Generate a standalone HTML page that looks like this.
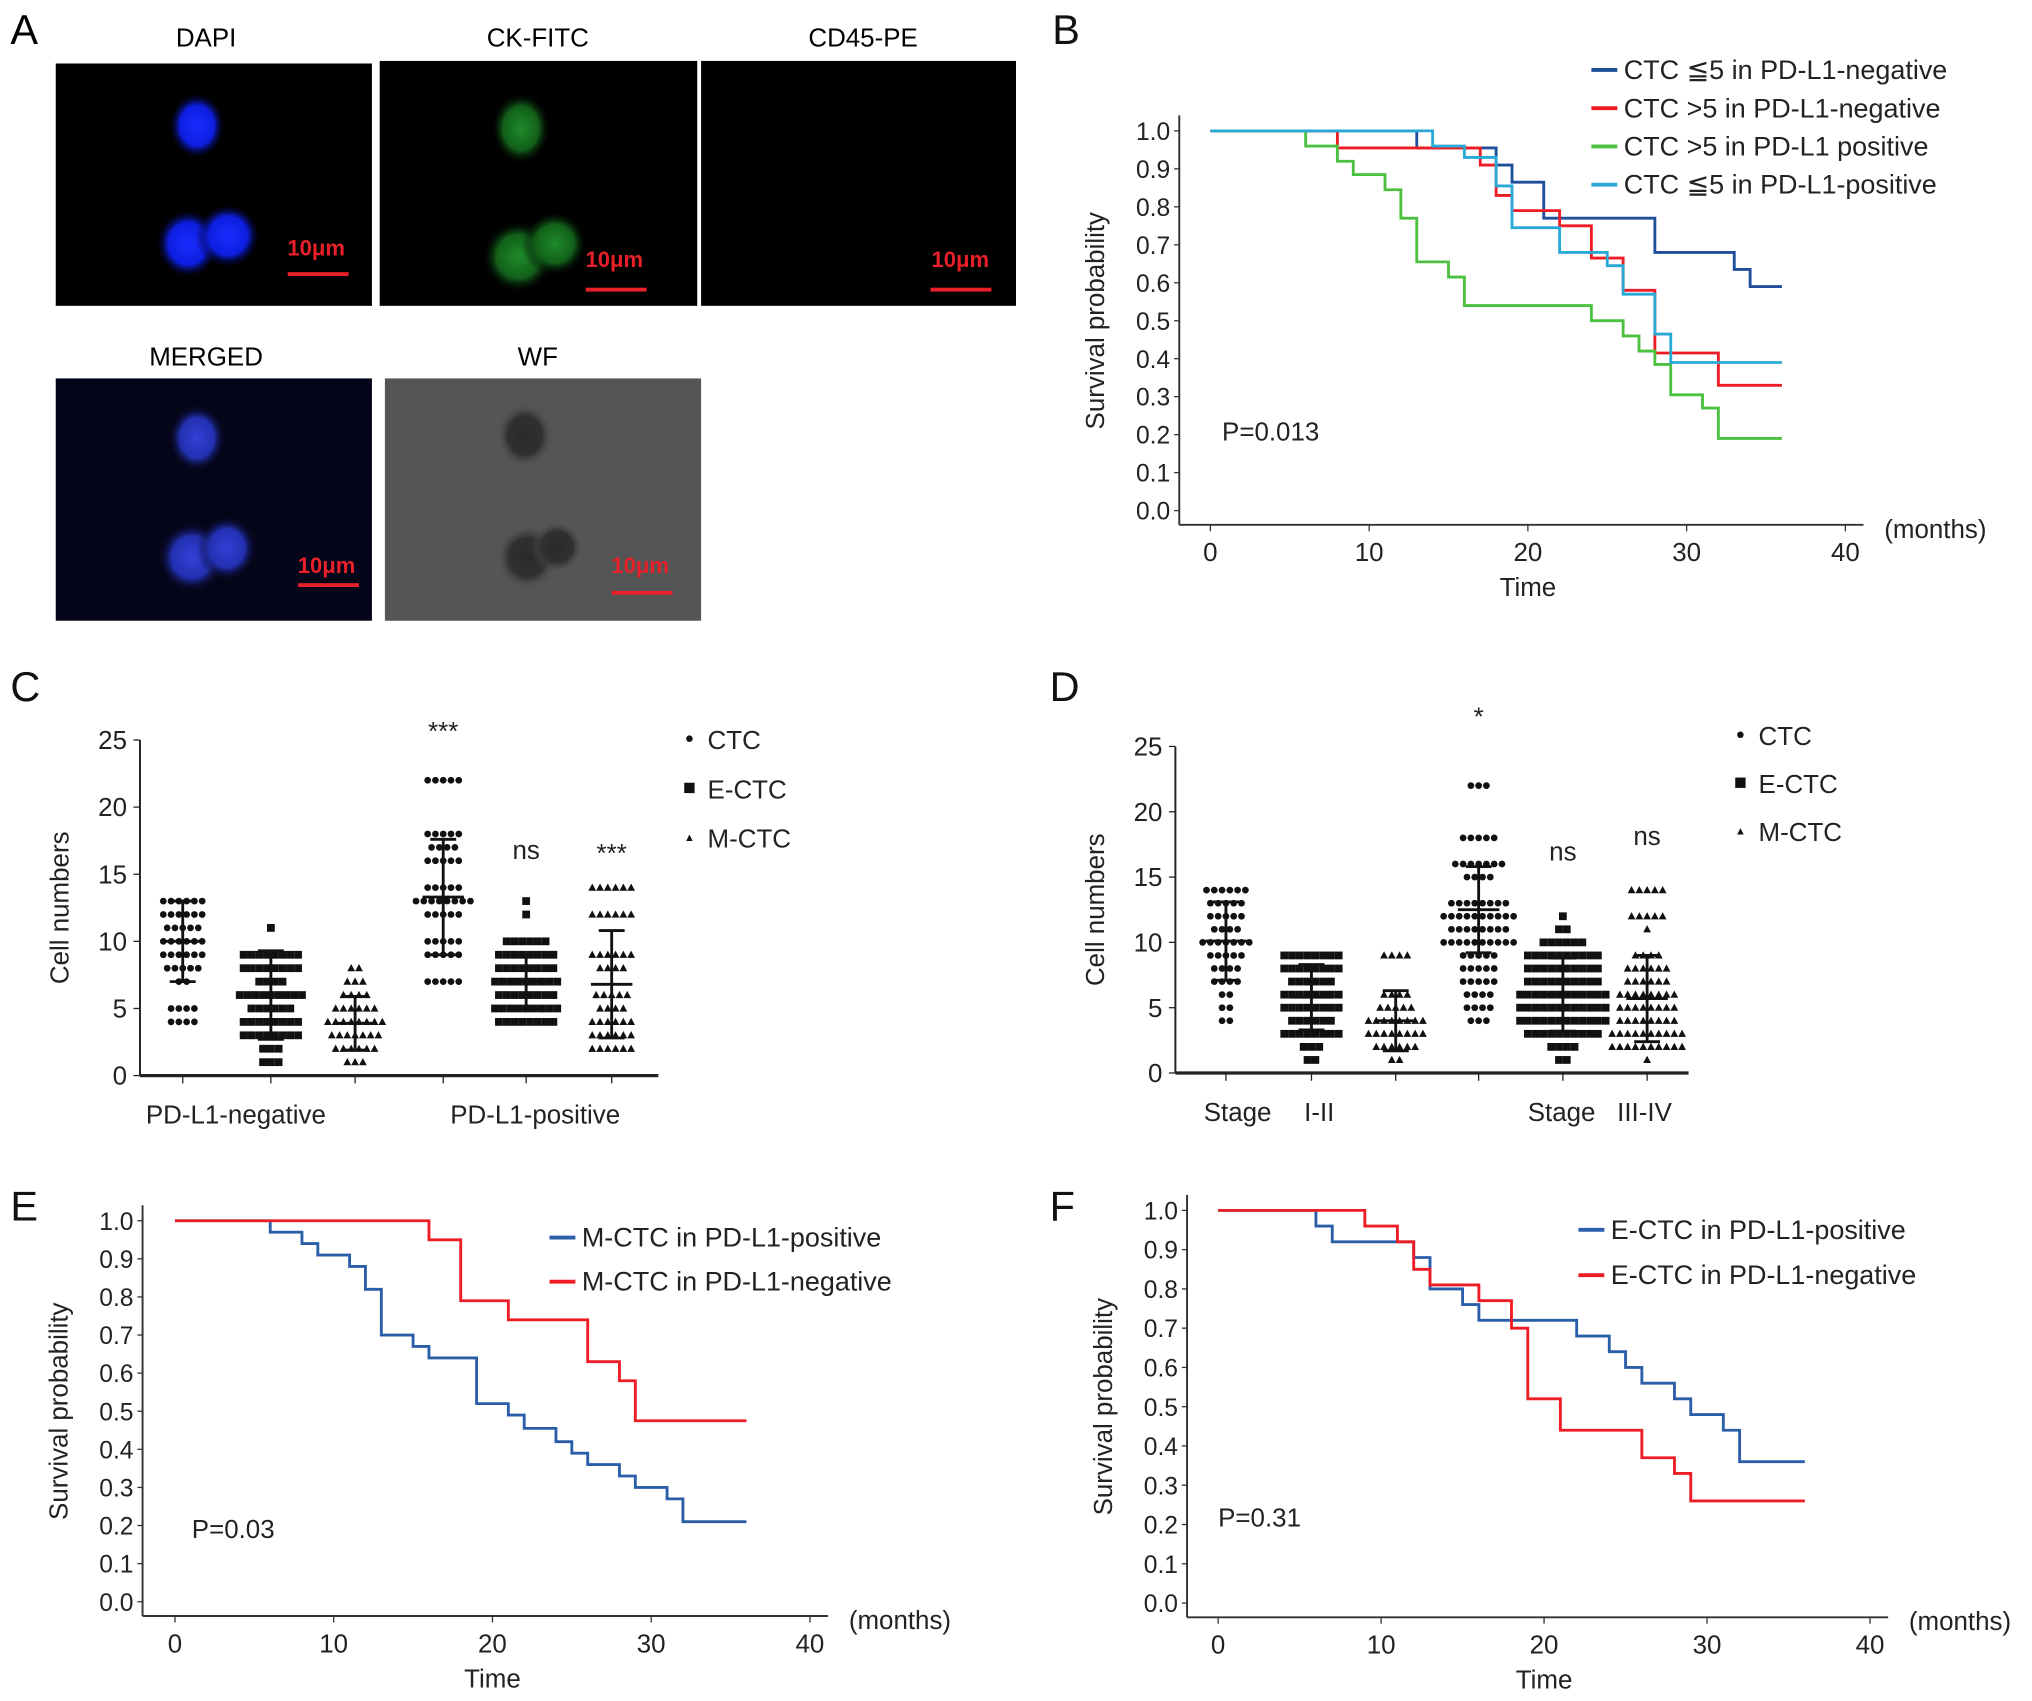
<!DOCTYPE html>
<html><head><meta charset="utf-8">
<style>
html,body{margin:0;padding:0;background:#fff;}
svg{display:block;font-family:"Liberation Sans",sans-serif;}
</style></head>
<body>
<svg id="fig" width="2032" height="1701" viewBox="0 0 1568 1312.6" xmlns="http://www.w3.org/2000/svg">
<defs>
<radialGradient id="gb"><stop offset="0" stop-color="#1a2cff"/><stop offset="0.6" stop-color="#0d1ee0"/><stop offset="1" stop-color="#000" stop-opacity="0"/></radialGradient>
<radialGradient id="gg"><stop offset="0" stop-color="#1f8a2a"/><stop offset="0.6" stop-color="#12601a"/><stop offset="1" stop-color="#000" stop-opacity="0"/></radialGradient>
<radialGradient id="gm"><stop offset="0" stop-color="#3440d8"/><stop offset="0.6" stop-color="#2230b0"/><stop offset="1" stop-color="#05051a" stop-opacity="0"/></radialGradient>
<radialGradient id="gw"><stop offset="0" stop-color="#2a2a2a"/><stop offset="0.6" stop-color="#303030"/><stop offset="1" stop-color="#555" stop-opacity="0"/></radialGradient>
</defs>
<g id="panelA">
<text x="8" y="34" font-size="32">A</text>
<text x="159" y="36" font-size="20" text-anchor="middle">DAPI</text>
<text x="415" y="36" font-size="20" text-anchor="middle">CK-FITC</text>
<text x="666" y="36" font-size="20" text-anchor="middle">CD45-PE</text>
<text x="159" y="282" font-size="20" text-anchor="middle">MERGED</text>
<text x="415" y="282" font-size="20" text-anchor="middle">WF</text>
<g><rect x="43" y="49" width="244" height="187" fill="#000"/>
<ellipse cx="152" cy="97" rx="22" ry="26" fill="url(#gb)"/><ellipse cx="145" cy="188" rx="25" ry="27" fill="url(#gb)"/><ellipse cx="176" cy="182" rx="25" ry="25" fill="url(#gb)"/>
<text x="244" y="197" font-size="17" font-weight="bold" fill="#e8202a" text-anchor="middle">10μm</text><rect x="222" y="210" width="47" height="3" fill="#e8202a"/></g>
<g><rect x="293" y="47" width="245" height="189" fill="#000"/>
<ellipse cx="402" cy="99" rx="23" ry="28" fill="url(#gg)"/><ellipse cx="400" cy="198" rx="28" ry="28" fill="url(#gg)"/><ellipse cx="428" cy="188" rx="25" ry="25" fill="url(#gg)"/>
<text x="474" y="206" font-size="17" font-weight="bold" fill="#e8202a" text-anchor="middle">10μm</text><rect x="452" y="222" width="47" height="3" fill="#e8202a"/></g>
<g><rect x="541" y="47" width="243" height="189" fill="#000"/>
<text x="741" y="206" font-size="17" font-weight="bold" fill="#e8202a" text-anchor="middle">10μm</text><rect x="718" y="222" width="47" height="3" fill="#e8202a"/></g>
<g><rect x="43" y="292" width="244" height="187" fill="#05051a"/>
<ellipse cx="152" cy="338" rx="22" ry="26" fill="url(#gm)"/><ellipse cx="148" cy="430" rx="26" ry="27" fill="url(#gm)"/><ellipse cx="175" cy="423" rx="23" ry="25" fill="url(#gm)"/>
<text x="252" y="442" font-size="17" font-weight="bold" fill="#e8202a" text-anchor="middle">10μm</text><rect x="230" y="450" width="47" height="3" fill="#e8202a"/></g>
<g><rect x="297" y="292" width="244" height="187" fill="#555"/>
<ellipse cx="405" cy="336" rx="22" ry="25" fill="url(#gw)"/><ellipse cx="407" cy="430" rx="24" ry="25" fill="url(#gw)"/><ellipse cx="430" cy="422" rx="20" ry="20" fill="url(#gw)"/>
<text x="494" y="442" font-size="17" font-weight="bold" fill="#e8202a" text-anchor="middle">10μm</text><rect x="472" y="456" width="47" height="3" fill="#e8202a"/></g>
</g>
<g id="gB"></g><g id="gC"></g><g id="gD"></g><g id="gE"></g><g id="gF"></g>
</svg>
<script>
// ---------- Panel B data ----------
const bNames = ["CTC ≦5 in PD-L1-negative","CTC >5 in PD-L1-negative","CTC >5 in PD-L1 positive","CTC ≦5 in PD-L1-positive"];
const bColors = ["#1f4e9a","#ee1c25","#4cc140","#29a9d6"];
const bT0 = [13,18,19,21,28,33,34];
const bS0 = [0.955,0.91,0.865,0.77,0.68,0.635,0.59];
const bT1 = [8,17,18,19,22,24,26,28,32];
const bS1 = [0.955,0.91,0.83,0.79,0.75,0.665,0.58,0.415,0.33];
const bT2 = [6,8,9,11,12,13,15,16,24,26,27,28,29,31,32];
const bS2 = [0.96,0.92,0.885,0.845,0.77,0.655,0.615,0.54,0.5,0.46,0.42,0.385,0.305,0.27,0.19];
const bT3 = [14,16,18,19,22,25,26,28,29];
const bS3 = [0.96,0.93,0.855,0.745,0.68,0.645,0.57,0.465,0.39];
// ---------- Panel E data ----------
const eNames = ["M-CTC in PD-L1-positive","M-CTC in PD-L1-negative"];
const eColors = ["#2a5ea8","#ee1c25"];
const eT0 = [6,8,9,11,12,13,15,16,19,21,22,24,25,26,28,29,31,32];
const eS0 = [0.97,0.94,0.91,0.88,0.82,0.70,0.67,0.64,0.52,0.49,0.455,0.42,0.39,0.36,0.33,0.30,0.27,0.21];
const eT1 = [16,18,21,26,28,29];
const eS1 = [0.95,0.79,0.74,0.63,0.58,0.475];
// ---------- Panel F data ----------
const fNames = ["E-CTC in PD-L1-positive","E-CTC in PD-L1-negative"];
const fColors = ["#2a5ea8","#ee1c25"];
const fT0 = [6,7,12,13,15,16,22,24,25,26,28,29,31,32];
const fS0 = [0.96,0.92,0.88,0.80,0.76,0.72,0.68,0.64,0.60,0.56,0.52,0.48,0.44,0.36];
const fT1 = [9,11,12,13,16,18,19,21,26,28,29];
const fS1 = [0.96,0.92,0.85,0.81,0.77,0.70,0.52,0.44,0.37,0.33,0.26];
const kmEnd = 36;
const xTicks = [0,10,20,30,40];
const yTicksKM = [0,0.1,0.2,0.3,0.4,0.5,0.6,0.7,0.8,0.9,1.0];
// ---------- Panel C data ----------
const cVals = [[13,12,11,10,9,8,7,5,4],[11,9,8,7,6,5,4,3,2,1],[8,7,6,5,4,3,2,1],[22,18,17,16,14,13,12,10,9,7],[13,12,10,9,8,7,6,5,4],[14,12,9,8,6,5,4,3,2]];
const cCnts = [[6,6,5,6,6,5,2,4,4],[1,8,8,4,9,6,8,8,3,3],[2,3,4,6,8,7,6,3],[5,5,4,5,5,8,5,5,5,5],[1,1,6,8,8,9,8,9,8],[6,6,6,4,5,4,6,6,6]];
const cMean = [10,6,3.9,13.3,7,6.8];
const cSD = [3,3.3,2,4.3,2,4];
const cStars = ["","","","***","ns","***"];
// ---------- Panel D data ----------
const dVals = [[14,13,12,11,10,9,8,7,6,5,4],[9,8,7,6,5,4,3,2,1],[9,6,5,4,3,2,1],[22,18,16,15,13,12,11,10,9,8,7,6,5,4],[12,11,10,9,8,7,6,5,4,3,2,1],[14,12,11,9,8,7,6,5,4,3,2,1]];
const dCnts = [[6,5,5,4,7,5,4,4,2,2,2],[8,8,6,8,8,6,8,3,2],[4,4,5,8,8,6,2],[3,5,7,4,8,10,8,10,5,5,5,4,4,3],[1,2,6,10,10,10,12,12,12,10,4,2],[5,5,1,4,6,6,8,8,8,10,10,1]];
const dMean = [10.1,5.8,4,12.5,6,5.7];
const dSD = [3,2.5,2.3,3.3,2.8,3.3];
const dStars = ["","","","*","ns","ns"];
const yTicksC = [0,5,10,15,20,25];
const shapes = ["circle","square","triangle"];

const NS="http://www.w3.org/2000/svg";
function mk(tag,attrs,parent,text){const e=document.createElementNS(NS,tag);for(const k in attrs)e.setAttribute(k,attrs[k]);if(text!==undefined)e.textContent=text;parent.appendChild(e);return e;}

function km(gid,cfg){
  const g=document.getElementById(gid);
  const X=t=>cfg.x0+(cfg.x40-cfg.x0)*t/40, Y=s=>cfg.y0-(cfg.y0-cfg.y1)*s;
  const ax=mk('g',{},g);
  
  
  mk('line',{x1:cfg.axL,y1:Y(1)-12,x2:cfg.axL,y2:cfg.axB,stroke:'#333','stroke-width':1.5},ax);
  mk('line',{x1:cfg.axL,y1:cfg.axB,x2:X(40)+14,y2:cfg.axB,stroke:'#333','stroke-width':1.5},ax);
  yTicksKM.forEach(v=>{mk('line',{x1:cfg.axL-4,x2:cfg.axL,y1:Y(v),y2:Y(v),stroke:'#333'},ax);
    const t=mk('text',{x:cfg.axL-7,y:Y(v)+7,'font-size':19,'text-anchor':'end',fill:'#222'},ax,v.toFixed(1));
    
    });
  xTicks.forEach(v=>{mk('line',{x1:X(v),x2:X(v),y1:cfg.axB,y2:cfg.axB+5,stroke:'#333'},ax);
    const t=mk('text',{x:X(v),y:cfg.axB+28,'font-size':20,'text-anchor':'middle',fill:'#222'},ax,String(v));
    
    });
  const xt=mk('text',{x:X(20),y:cfg.axB+55,'font-size':20,'text-anchor':'middle',fill:'#222'},ax,'Time');
  
  
  const mo=mk('text',{x:X(40)+30,y:cfg.axB+10,'font-size':20,fill:'#222'},ax,'(months)');
  
  
  const yt=mk('text',{x:0,y:0,'font-size':20,'text-anchor':'middle',fill:'#222',transform:`translate(${cfg.axL-58},${Y(0.5)}) rotate(-90)`},ax,'Survival probability');
  
  
  const p=mk('text',{x:cfg.px,y:cfg.py,'font-size':20,fill:'#222'},ax,cfg.p);
  
  
  cfg.series.forEach((s,i)=>{
    let d=`M${X(0)},${Y(1)}`;
    s.t.forEach((t,j)=>{d+=` H${X(t)} V${Y(s.s[j])}`;});
    d+=` H${X(kmEnd)}`;
    const path=mk('path',{d:d,fill:'none',stroke:s.c,'stroke-width':2.2},g);
    
    
    const lg=mk('g',{},g);
    
    
    mk('line',{x1:cfg.lx,x2:cfg.lx+20,y1:cfg.ly+i*cfg.ld,y2:cfg.ly+i*cfg.ld,stroke:s.c,'stroke-width':3},lg);
    mk('text',{x:cfg.lx+25,y:cfg.ly+i*cfg.ld+7,'font-size':20.8,fill:'#222'},lg,s.n);
  });
}
km('gB',{x0:934,x40:1424,y0:394,y1:101,axL:910,axB:405,px:943,py:340,p:'P=0.013',lx:1228,ly:54,ld:29.5,
  series:[{t:bT0,s:bS0,c:bColors[0],n:bNames[0]},{t:bT1,s:bS1,c:bColors[1],n:bNames[1]},{t:bT2,s:bS2,c:bColors[2],n:bNames[2]},{t:bT3,s:bS3,c:bColors[3],n:bNames[3]}]});
km('gE',{x0:135,x40:625,y0:1236,y1:942,axL:110,axB:1247,px:148,py:1187,p:'P=0.03',lx:424,ly:955,ld:34,
  series:[{t:eT0,s:eS0,c:eColors[0],n:eNames[0]},{t:eT1,s:eS1,c:eColors[1],n:eNames[1]}]});
km('gF',{x0:940,x40:1443,y0:1237,y1:934,axL:916,axB:1248,px:940,py:1178,p:'P=0.31',lx:1218,ly:949,ld:35,
  series:[{t:fT0,s:fS0,c:fColors[0],n:fNames[0]},{t:fT1,s:fS1,c:fColors[1],n:fNames[1]}]});
[['B',812,34],['C',8,541],['D',810,541],['E',8,942],['F',810,942]].forEach(a=>{
  const t=mk('text',{x:a[1],y:a[2],'font-size':32,fill:'#111'},document.getElementById('fig'),a[0]);
  
  
});

function scat(gid,cfg){
  const g=document.getElementById(gid);
  const Y=v=>cfg.y0-(cfg.y0-cfg.y25)*v/25;
  const ax=mk('g',{},g);
  
  
  mk('line',{x1:cfg.axL,y1:Y(25),x2:cfg.axL,y2:cfg.y0,stroke:'#222','stroke-width':1.5},ax);
  mk('line',{x1:cfg.axL,y1:cfg.y0,x2:cfg.axR,y2:cfg.y0,stroke:'#222','stroke-width':2.5},ax);
  yTicksC.forEach(v=>{mk('line',{x1:cfg.axL-5,x2:cfg.axL,y1:Y(v),y2:Y(v),stroke:'#222'},ax);
    const t=mk('text',{x:cfg.axL-10,y:Y(v)+7,'font-size':20,'text-anchor':'end',fill:'#222'},ax,String(v));
    
    });
  const yt=mk('text',{x:0,y:0,'font-size':20,'text-anchor':'middle',fill:'#222',transform:`translate(${cfg.axL-55},${Y(12.5)}) rotate(-90)`},ax,'Cell numbers');
  
  
  cfg.labels.forEach(l=>{const t=mk('text',{x:l[1],y:cfg.y0+37,'font-size':20,'text-anchor':'middle',fill:'#222'},ax,l[0]);
    
    });
  cfg.gx.forEach((x,i)=>{
    mk('line',{x1:x,x2:x,y1:cfg.y0,y2:cfg.y0+6,stroke:'#222'},ax);
    const grp=mk('g',{fill:'#111'},g);
    
    
    const sh=shapes[i%3];
    cfg.vals[i].forEach((v,j)=>{
      const n=cfg.cnts[i][j], sp=6;
      for(let k=0;k<n;k++){
        const px=x+(k-(n-1)/2)*sp, py=Y(v);
        if(sh==='circle') mk('circle',{cx:px,cy:py,r:2.6},grp);
        else if(sh==='square') mk('rect',{x:px-3,y:py-3,width:6,height:6},grp);
        else mk('path',{d:`M${px},${py-3.2} L${px+3},${py+2.4} L${px-3},${py+2.4}Z`},grp);
      }
    });
    const m=cfg.mean[i], s=cfg.sd[i];
    const eb=mk('g',{stroke:'#111','stroke-width':2.2},g);
    
    
    mk('line',{x1:x,x2:x,y1:Y(m-s),y2:Y(m+s)},eb);
    mk('line',{x1:x-16,x2:x+16,y1:Y(m),y2:Y(m)},eb);
    mk('line',{x1:x-10,x2:x+10,y1:Y(m-s),y2:Y(m-s)},eb);
    mk('line',{x1:x-10,x2:x+10,y1:Y(m+s),y2:Y(m+s)},eb);
    if(cfg.stars[i]){const t=mk('text',{x:x,y:cfg.starY[i],'font-size':20,'text-anchor':'middle',fill:'#222'},g,cfg.stars[i]);
      
      }
  });
  ['CTC','E-CTC','M-CTC'].forEach((n,i)=>{
    const lg=mk('g',{fill:'#111'},g);
    
    
    const lx=cfg.lx, ly=cfg.ly+i*cfg.ld;
    if(i===0) mk('circle',{cx:lx,cy:ly-1,r:2.5},lg);
    else if(i===1) mk('rect',{x:lx-4,y:ly-5,width:8,height:8},lg);
    else mk('path',{d:`M${lx},${ly-3} L${lx+2.5},${ly+2} L${lx-2.5},${ly+2}Z`},lg);
    mk('text',{x:lx+14,y:ly+7,'font-size':20,fill:'#222'},lg,n);
  });
}
scat('gC',{y0:830,y25:571,axL:108,axR:508,gx:[141,209,274,342,406,472],vals:cVals,cnts:cCnts,mean:cMean,sd:cSD,stars:cStars,
  starY:[0,0,0,571,663,665],lx:532,ly:571,ld:38,labels:[['PD-L1-negative',182],['PD-L1-positive',413]]});
scat('gD',{y0:828,y25:576,axL:907,axR:1303,gx:[946,1012,1077,1141,1206,1271],vals:dVals,cnts:dCnts,mean:dMean,sd:dSD,stars:dStars,
  starY:[0,0,0,560,664,652],lx:1343,ly:568,ld:37,labels:[['Stage',955],['I-II',1018],['Stage',1205],['III-IV',1269]]});
</script>
</body></html>
